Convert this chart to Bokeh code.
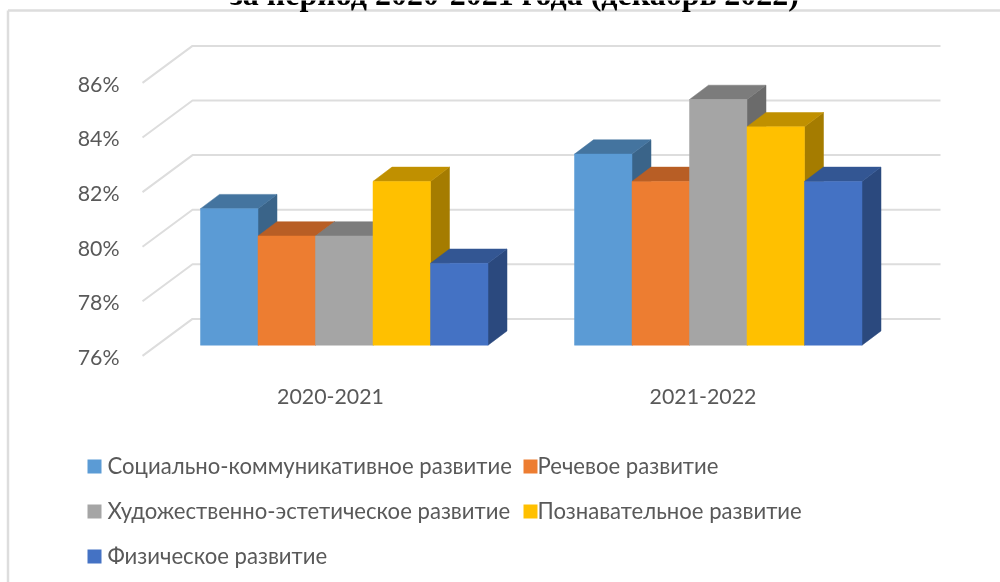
from bokeh.plotting import figure
from bokeh.embed import file_html
from bokeh.resources import INLINE
from bokeh.core.properties import value

TITLE = "за период 2020-2021 года (декабрь 2022)"
categories = ["2020-2021", "2021-2022"]
series_names = ["Социально-коммуникативное развитие", "Речевое развитие",
                "Художественно-эстетическое развитие", "Познавательное развитие",
                "Физическое развитие"]
social = [81, 83]
speech = [80, 82]
art = [80, 85]
cognitive = [82, 84]
physical = [79, 82]
series = [social, speech, art, cognitive, physical]
y_ticks = [76, 78, 80, 82, 84, 86]
front = ["#5B9BD5", "#ED7D31", "#A5A5A5", "#FFC000", "#4472C4"]
top = ["#44749F", "#B85E25", "#7C7C7C", "#C09000", "#335693"]
side = ["#3A6489", "#9E5120", "#6B6B6B", "#A57C00", "#2B497E"]

W, H = 1000, 582
PX = 27.3           # pixels per percentage point
BASE_PX = 344.7     # pixel row of the 76 % level on the bars' front
def val(py):        # pixel row -> axis value
    return 76 + (BASE_PX - py) / PX

p = figure(width=W, height=H, x_range=(0, W), y_range=(val(H), val(0)),
           output_backend="svg", toolbar_location=None, min_border=0,
           outline_line_color=None, background_fill_color="white")
p.styles = {"position": "fixed", "left": "0px", "top": "0px"}
p.axis.visible = False
p.grid.visible = False

GRID = "#DDDDDD"
# chart frame
p.line([7.5, 7.5], [val(H), val(10)], line_color=GRID, line_width=2.5)
p.line([7.5, W], [val(10), val(10)], line_color=GRID, line_width=2.5)

# back wall grid + side wall diagonals
WALL_DX, WALL_DY, BACK_DY = 50, 37 / PX, 26.3 / PX
LEFT = 142
SHIFT = 11.5 / PX
for t in y_ticks:
    yb = t + BACK_DY
    p.line([LEFT, LEFT + WALL_DX, 940], [yb - WALL_DY, yb, yb], line_color=GRID, line_width=2)

# bars
STARTS = [200, 574]
BW = 57.5
DX, DY = 19, 14.3 / PX
for g in range(len(categories)):
    for s, vals in enumerate(series):
        x0 = STARTS[g] + s * BW
        x1 = x0 + BW
        v = vals[g]
        p.patch([x1, x1 + DX, x1 + DX, x1], [76, 76 + DY, v + DY, v], fill_color=side[s], line_color=side[s], line_width=0.5)
        p.patch([x0, x0 + DX, x1 + DX, x1], [v, v + DY, v + DY, v], fill_color=top[s], line_color=top[s], line_width=0.5)
        p.patch([x0, x1, x1, x0], [76, 76, v, v], fill_color=front[s], line_color=front[s], line_width=0.5)

FONT = value("Lato")
TXT = "#595959"
FS = "16pt"
# tick labels
p.text(x=[119] * len(y_ticks), y=[t - SHIFT for t in y_ticks], text=[f"{t}%" for t in y_ticks],
       text_font=FONT, text_font_size=FS, text_color=TXT, text_align="right", text_baseline="middle")
# category labels
p.text(x=[330, 702.5], y=[val(396)] * 2, text=categories, text_font=FONT, text_font_size=FS,
       text_color=TXT, text_align="center", text_baseline="middle")

# legend
LX = [87, 523, 87, 523, 87]
LY = [466, 466, 511, 511, 556]
for i, name in enumerate(series_names):
    p.quad(left=LX[i], right=LX[i] + 14, top=val(LY[i] - 7), bottom=val(LY[i] + 7), fill_color=front[i], line_color=None)
    p.text(x=[LX[i] + 20 if i in (0, 2, 4) else LX[i] + 14], y=[val(LY[i] - 1.5)], text=[name], text_font=FONT, text_font_size="16.6pt",
           text_color=TXT, text_align="left", text_baseline="middle")

# title
p.text(x=[514], y=[val(-7)], text=[TITLE], text_font=value("Liberation Serif"), text_font_size="24pt",
       text_font_style="bold", text_color="black", text_align="center", text_baseline="alphabetic")

open("out.html", "w").write(file_html(p, INLINE))
